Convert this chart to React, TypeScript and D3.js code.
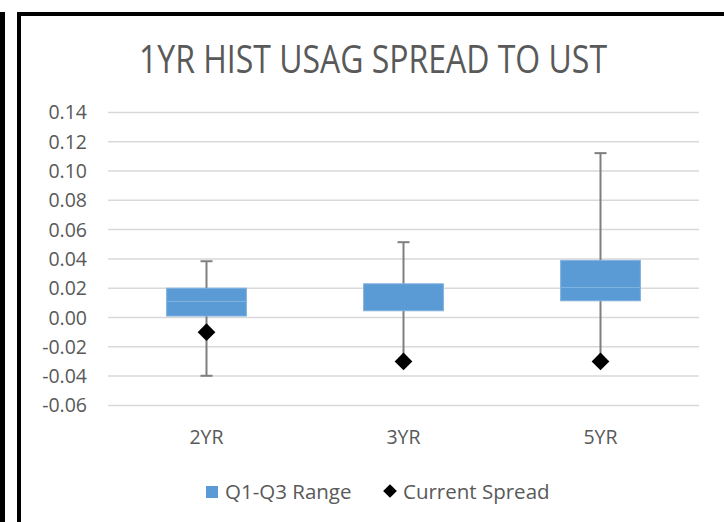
import * as d3 from "d3";
import React, { useRef, useEffect } from "react";

// values
const categories = ["2YR", "3YR", "5YR"];
const q1Values = [0.001, 0.0046, 0.0114];
const medianValues = [0.011, 0.0046, 0.0205];
const q3Values = [0.02, 0.023, 0.039];
const minValues = [-0.0398, -0.03, -0.03];
const maxValues = [0.0384, 0.0514, 0.1122];
const currentValues = [-0.01, -0.03, -0.03];
const yTicks = [-0.06, -0.04, -0.02, 0, 0.02, 0.04, 0.06, 0.08, 0.1, 0.12, 0.14];

const FONT = "'Open Sans', 'Noto Sans', sans-serif";
const TEXT_COLOR = "#595959";

/**
 * Box chart (stacked Q1-Q3 bars with whiskers and a diamond marker)
 */
function App() {
  const svgRef = useRef<SVGSVGElement>(null);

  useEffect(() => {
    const svg = d3.select(svgRef.current);
    svg.selectAll("*").remove();

    const width = 724;
    const height = 522;
    const plot = { left: 108, right: 699, top: 112.4, bottom: 405.4 };

    // frames
    svg.append("rect").attr("width", width).attr("height", height).attr("fill", "white");
    svg
      .append("rect")
      .attr("x", 19)
      .attr("y", 14)
      .attr("width", 800)
      .attr("height", 600)
      .attr("fill", "none")
      .attr("stroke", "black")
      .attr("stroke-width", 4);
    svg
      .append("line")
      .attr("x1", 2.5)
      .attr("x2", 2.5)
      .attr("y1", 12)
      .attr("y2", height)
      .attr("stroke", "black")
      .attr("stroke-width", 5);

    const x = d3.scaleBand().domain(categories).range([plot.left, plot.right]);
    const y = d3.scaleLinear().domain([-0.06, 0.14]).range([plot.bottom, plot.top]);
    const boxW = x.bandwidth() * 0.405;

    // title
    svg
      .append("text")
      .attr("x", 139)
      .attr("y", 73)
      .attr("textLength", 468)
      .attr("lengthAdjust", "spacingAndGlyphs")
      .attr("font-family", FONT)
      .attr("font-size", 38)
      .attr("fill", TEXT_COLOR)
      .text("1YR HIST USAG SPREAD TO UST");

    // grid lines
    svg
      .append("g")
      .selectAll("line")
      .data(yTicks)
      .enter()
      .append("line")
      .attr("x1", plot.left)
      .attr("x2", plot.right)
      .attr("y1", (d) => y(d))
      .attr("y2", (d) => y(d))
      .attr("stroke", "#d9d9d9")
      .attr("stroke-width", 1.5);

    // y axis labels (plain hyphen for negatives, like the original)
    svg
      .append("g")
      .selectAll("text")
      .data(yTicks)
      .enter()
      .append("text")
      .attr("x", 87)
      .attr("y", (d) => y(d))
      .attr("dy", "0.36em")
      .attr("text-anchor", "end")
      .attr("font-family", FONT)
      .attr("font-size", 19.5)
      .attr("fill", TEXT_COLOR)
      .text((d) => d3.format(".2f")(d).replace("−", "-"));

    // x axis labels
    svg
      .append("g")
      .selectAll("text")
      .data(categories)
      .enter()
      .append("text")
      .attr("x", (d) => x(d)! + x.bandwidth() / 2)
      .attr("y", 444)
      .attr("text-anchor", "middle")
      .attr("font-family", FONT)
      .attr("font-size", 19.5)
      .attr("fill", TEXT_COLOR)
      .text((d) => d);

    const idx = d3.range(categories.length);
    const cx = (i: number) => x(categories[i])! + x.bandwidth() / 2;

    // whiskers (behind the boxes)
    const whisk = svg.append("g").attr("stroke", "#7f7f7f").attr("stroke-width", 2);
    idx.forEach((i) => {
      whisk
        .append("line")
        .attr("x1", cx(i))
        .attr("x2", cx(i))
        .attr("y1", y(minValues[i]))
        .attr("y2", y(maxValues[i]));
      [minValues[i], maxValues[i]].forEach((v) => {
        whisk
          .append("line")
          .attr("x1", cx(i) - 6)
          .attr("x2", cx(i) + 6)
          .attr("y1", y(v))
          .attr("y2", y(v));
      });
    });

    // boxes: two stacked segments Q1-median and median-Q3
    const boxes = svg.append("g");
    idx.forEach((i) => {
      const segs = [
        [q1Values[i], medianValues[i]],
        [medianValues[i], q3Values[i]],
      ].filter((s) => s[1] > s[0]);
      segs.forEach((s) => {
        boxes
          .append("rect")
          .attr("x", cx(i) - boxW / 2)
          .attr("width", boxW)
          .attr("y", y(s[1]))
          .attr("height", y(s[0]) - y(s[1]))
          .attr("fill", "#5b9bd5")
          .attr("stroke", "#7fb1e0")
          .attr("stroke-width", 1);
      });
    });

    // current spread diamonds
    const diamond = d3.symbol().type(d3.symbolDiamond2).size(200);
    svg
      .append("g")
      .selectAll("path")
      .data(idx)
      .enter()
      .append("path")
      .attr("d", diamond)
      .attr("transform", (i) => `translate(${cx(i)},${y(currentValues[i])})`)
      .attr("fill", "black");

    // legend
    const legend = svg.append("g").attr("font-family", FONT).attr("font-size", 20.5).attr("fill", TEXT_COLOR);
    legend
      .append("rect")
      .attr("x", 206)
      .attr("y", 486)
      .attr("width", 12)
      .attr("height", 12)
      .attr("fill", "#5b9bd5");
    legend.append("text").attr("x", 225).attr("y", 499).text("Q1-Q3 Range");
    legend
      .append("path")
      .attr("d", d3.symbol().type(d3.symbolDiamond2).size(120)())
      .attr("transform", "translate(390,491)")
      .attr("fill", "black");
    legend.append("text").attr("x", 403).attr("y", 499).text("Current Spread");
  });

  return (
    <svg
      ref={svgRef}
      width={724}
      height={522}
      style={{ position: "fixed", left: 0, top: 0, display: "block" }}
    />
  );
}

export default App;
